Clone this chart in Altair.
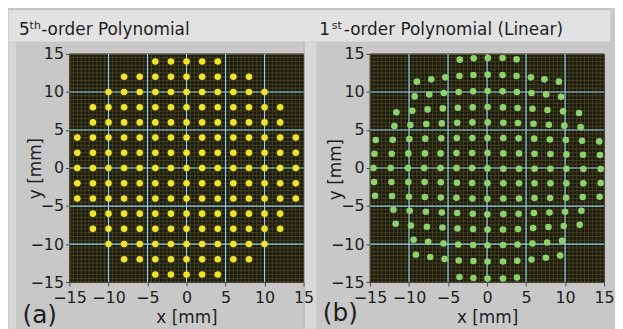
import altair as alt
import numpy as np
import pandas as pd

# ---------------- data ----------------
TICKS = [-15, -10, -5, 0, 5, 10, 15]
MAJOR = [-10, -5, 0, 5, 10]
MINOR = [float(v) for v in np.arange(-15.0, 15.01, 0.5)]

# (a) 5th-order polynomial: corrected grid, one list of x per row
YELLOW_ROW_Y = [14, 12, 10, 8, 6, 4, 2, 0, -2, -4, -6, -8, -10, -12, -14]
YELLOW_ROW_X = [
    [-4, -2, 0, 2, 4],
    [-8, -6, -4, -2, 0, 2, 4, 6, 8],
    [-10, -8, -6, -4, -2, 0, 2, 4, 6, 8, 10],
    [-12, -10, -8, -6, -4, -2, 0, 2, 4, 6, 8, 10, 12],
    [-12, -10, -8, -6, -4, -2, 0, 2, 4, 6, 8, 10, 12],
    [-14, -12, -10, -8, -6, -4, -2, 0, 2, 4, 6, 8, 10, 12, 14],
    [-14, -12, -10, -8, -6, -4, -2, 0, 2, 4, 6, 8, 10, 12, 14],
    [-14, -12, -10, -8, -6, -4, -2, 0, 2, 4, 6, 8, 10, 12, 14],
    [-14, -12, -10, -8, -6, -4, -2, 0, 2, 4, 6, 8, 10, 12, 14],
    [-14, -12, -10, -8, -6, -4, -2, 0, 2, 4, 6, 8, 10, 12, 14],
    [-12, -10, -8, -6, -4, -2, 0, 2, 4, 6, 8, 10, 12],
    [-12, -10, -8, -6, -4, -2, 0, 2, 4, 6, 8, 10, 12],
    [-10, -8, -6, -4, -2, 0, 2, 4, 6, 8, 10],
    [-8, -6, -4, -2, 0, 2, 4, 6, 8],
    [-4, -2, 0, 2, 4],
]

# (b) 1st-order polynomial (linear): distorted points, row by row
GREEN_ROW_X = [
    [-3.50, -1.71, 0.10, 1.99, 3.78],
    [-8.99, -7.15, -5.36, -3.54, -1.75, 0.08, 1.99, 3.78, 5.62, 7.36, 9.20],
    [-9.28, -7.41, -5.54, -3.63, -1.79, 0.08, 1.99, 3.83, 5.70, 7.57, 9.49],
    [-11.62, -9.58, -7.62, -5.67, -3.75, -1.84, 0.08, 2.04, 3.91, 5.82, 7.74, 9.74, 11.79],
    [-11.88, -9.83, -7.79, -5.80, -3.83, -1.88, 0.08, 2.08, 3.96, 5.95, 7.92, 9.91, 12.00],
    [-14.27, -12.09, -9.96, -7.92, -5.87, -3.88, -1.88, 0.06, 2.08, 4.04, 6.04, 8.05, 10.09, 12.17, 14.38],
    [-14.43, -12.22, -10.09, -7.97, -5.96, -3.92, -1.92, 0.06, 2.08, 4.09, 6.08, 8.12, 10.17, 12.30, 14.47],
    [-14.56, -12.35, -10.14, -8.05, -5.96, -3.92, -1.92, 0.06, 2.08, 4.09, 6.08, 8.12, 10.17, 12.34, 14.56],
    [-14.48, -12.26, -10.09, -8.00, -5.93, -3.87, -1.92, 0.04, 2.08, 4.09, 6.08, 8.12, 10.17, 12.34, 14.56],
    [-14.35, -12.18, -10.01, -7.97, -5.93, -3.92, -1.88, 0.04, 2.08, 4.09, 6.08, 8.08, 10.13, 12.26, 14.43],
    [-12.00, -9.92, -7.84, -5.80, -3.83, -1.84, 0.04, 2.08, 4.04, 6.00, 8.00, 10.00, 12.09],
    [-11.71, -9.76, -7.71, -5.71, -3.79, -1.79, 0.06, 2.04, 3.96, 5.91, 7.87, 9.83, 11.88],
    [-9.41, -7.54, -5.58, -3.70, -1.79, 0.06, 2.04, 3.91, 5.82, 7.70, 9.62],
    [-9.12, -7.28, -5.45, -3.63, -1.75, 0.06, 2.04, 3.87, 5.70, 7.53, 9.36],
    [-3.54, -1.75, 0.06, 2.04, 3.83],
]
GREEN_ROW_Y = [
    [14.25, 14.42, 14.47, 14.47, 14.29],
    [11.36, 11.66, 11.92, 12.10, 12.24, 12.28, 12.24, 12.10, 11.92, 11.66, 11.36],
    [9.42, 9.68, 9.87, 10.00, 10.08, 10.13, 10.08, 10.00, 9.87, 9.68, 9.38],
    [7.32, 7.54, 7.71, 7.84, 7.93, 7.97, 8.03, 7.97, 7.89, 7.80, 7.63, 7.45, 7.24],
    [5.53, 5.66, 5.79, 5.87, 5.96, 6.00, 6.00, 5.96, 5.92, 5.83, 5.70, 5.57, 5.39],
    [3.68, 3.72, 3.82, 3.86, 3.90, 3.95, 3.95, 3.95, 3.95, 3.90, 3.86, 3.76, 3.68, 3.59, 3.50],
    [1.88, 1.88, 1.92, 1.92, 1.92, 1.97, 1.97, 1.97, 1.92, 1.92, 1.88, 1.84, 1.79, 1.75, 1.71],
    [0.00, 0.00, 0.00, 0.00, 0.00, 0.00, 0.00, -0.05, -0.09, -0.09, -0.09, -0.09, -0.09, -0.13, -0.13],
    [-1.84, -1.84, -1.84, -1.84, -1.88, -1.93, -1.97, -1.99, -2.00, -2.00, -2.00, -2.00, -2.00, -2.00, -1.97],
    [-3.64, -3.68, -3.78, -3.82, -3.87, -3.91, -4.00, -4.04, -4.00, -4.00, -3.95, -3.95, -3.91, -3.82, -3.78],
    [-5.49, -5.62, -5.75, -5.84, -5.92, -6.01, -6.08, -6.05, -6.01, -5.92, -5.84, -5.75, -5.62],
    [-7.33, -7.55, -7.72, -7.82, -7.95, -8.03, -8.08, -8.08, -8.03, -7.89, -7.76, -7.63, -7.46],
    [-9.43, -9.70, -9.92, -10.05, -10.13, -10.15, -10.13, -10.05, -9.92, -9.79, -9.57],
    [-11.41, -11.71, -11.97, -12.16, -12.24, -12.29, -12.29, -12.20, -12.03, -11.80, -11.50],
    [-14.34, -14.47, -14.53, -14.53, -14.39],
]

yellow_df = pd.DataFrame(
    [(x, y) for y, xs in zip(YELLOW_ROW_Y, YELLOW_ROW_X) for x in xs], columns=["x", "y"]
)
green_df = pd.DataFrame(
    [(x, y) for xs, ys in zip(GREEN_ROW_X, GREEN_ROW_Y) for x, y in zip(xs, ys)], columns=["x", "y"]
)

# ---------------- style ----------------
FONT = "DejaVu Sans"
PANEL = "#c8c8c8"
STRIP = "#e2e2e2"
SEP = "#d8d8d8"
PLOT_BG = "#1a1910"
MINOR_C = "#46421f"
MAJOR_C = "#8fd0e4"
TEXT = "#1e1e1e"
W, H = 236, 230
DUMMY = pd.DataFrame({"d": [0]})


def rect(x1, x2, y1, y2, color):
    return alt.Chart(DUMMY).mark_rect(color=color).encode(
        x=alt.value(x1), x2=alt.value(x2), y=alt.value(y1), y2=alt.value(y2)
    )


def text(t, x, y, size, align="left", baseline="alphabetic"):
    return alt.Chart(DUMMY).mark_text(
        text=t, font=FONT, fontSize=size, align=align, baseline=baseline, color=TEXT
    ).encode(x=alt.value(x), y=alt.value(y))


def panel(df, color, title_parts, label, label_y, ytitle_x, ytitle_y, xtitle_y, decor):
    sc = alt.Scale(domain=[-15, 15], nice=False, zero=False)
    common = dict(
        values=TICKS, grid=False, domain=False, tickSize=4, tickColor="#4a4a4a",
        labelFont=FONT, labelFontSize=16, labelColor=TEXT, labelOverlap=False,
        labelFlush=False, zindex=1,
        titleFont=FONT, titleFontSize=17, titleFontWeight="normal", titleColor=TEXT,
        titleAlign="center", titleBaseline="middle",
    )
    x_axis = alt.Axis(title="x [mm]", labelPadding=4, titleX=W / 2, titleY=xtitle_y, **common)
    y_axis = alt.Axis(title="y [mm]", labelPadding=2, titleX=ytitle_x, titleY=ytitle_y,
                      titleAngle=270, **common)
    minor = pd.DataFrame({"v": MINOR})
    major = pd.DataFrame({"v": MAJOR})
    mx = alt.Chart(minor).mark_rule(color=MINOR_C, strokeWidth=1).encode(
        x=alt.X("v:Q", scale=sc, axis=x_axis))
    my = alt.Chart(minor).mark_rule(color=MINOR_C, strokeWidth=1).encode(
        y=alt.Y("v:Q", scale=sc, axis=y_axis))
    Mx = alt.Chart(major).mark_rule(color=MAJOR_C, strokeWidth=1.2).encode(
        x=alt.X("v:Q", scale=sc, axis=x_axis))
    My = alt.Chart(major).mark_rule(color=MAJOR_C, strokeWidth=1.2).encode(
        y=alt.Y("v:Q", scale=sc, axis=y_axis))
    pts = alt.Chart(df).mark_circle(size=44, color=color, opacity=1).encode(
        x=alt.X("x:Q", scale=sc, axis=x_axis),
        y=alt.Y("y:Q", scale=sc, axis=y_axis),
    )
    texts = [text(t, x, y, s) for (t, x, y, s) in title_parts]
    texts.append(text(label, -30, label_y, 25, align="center"))
    return alt.layer(*decor, mx, my, Mx, My, pts, *texts).properties(width=W, height=H)


left_decor = [
    rect(-61.3, 241, -44, -12.5, STRIP),
    rect(-61.3, -54, -12.5, 277, "#d6d6d6"),
    rect(237, 249, -12.5, 277, SEP),
    rect(236, 237, -12.5, 277, "#b2b2b2"),
]
right_decor = [
    rect(-63, 242.3, -44, -12.5, STRIP),
]

left = panel(
    yellow_df, "#efe52a",
    [("5", -50.8, -19, 17), ("th", -40.2, -24.7, 11), ("-order Polynomial", -28.5, -19, 17)],
    "(a)", 271, -34.3, 115, 35.5, left_decor,
)
right = panel(
    green_df, "#8ed26e",
    [("1", -51.2, -19, 17), ("st", -38.5, -24.7, 11), ("-order Polynomial (Linear)", -26.5, -19, 17)],
    "(b)", 269, -35.2, 116, 36, right_decor,
)

chart = alt.hconcat(left, right, spacing=67, bounds="flush").properties(
    padding=0
).configure(background=PANEL).configure_view(fill=PLOT_BG, stroke="#5a5a5a", strokeWidth=1)

chart.save("out.html", embed_options={"renderer": "svg", "actions": False})
